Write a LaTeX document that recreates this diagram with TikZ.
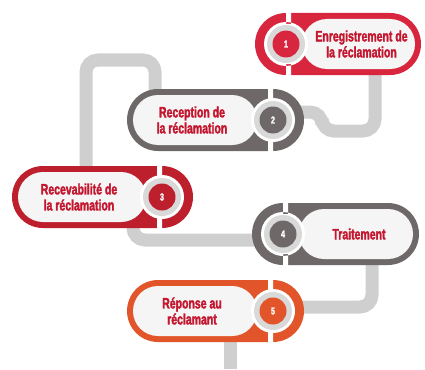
\documentclass[tikz,border=0pt]{standalone}
\usepackage{fontspec}
\setmainfont{Liberation Sans}[BoldFont={Liberation Sans Bold},
  BoldFeatures={FakeStretch=0.7,FakeBold=2},FakeStretch=0.7]
\usetikzlibrary{calc,backgrounds}
\definecolor{stepred}{HTML}{D9263F}
\definecolor{stepdark}{HTML}{BE1F2D}
\definecolor{stepgray}{HTML}{6E6869}
\definecolor{steporange}{HTML}{E2552B}
\definecolor{textred}{HTML}{C4162F}
\definecolor{linkgray}{HTML}{CFCFCF}
\tikzset{
  link/.style={draw=linkgray,line width=13pt,rounded corners=12pt},
  field/.style={fill=black!4},
  ring/.style={fill=black!15},
  badge/.style={circle,minimum size=27pt,inner sep=0pt,text=white,
    font=\bfseries\fontsize{10}{10}\selectfont},
  steptext/.style={text=textred,align=center,
    font=\bfseries\fontsize{15}{16}\selectfont}
}

\begin{document}
\begin{tikzpicture}[x=1pt,y=-1pt]
    \useasboundingbox (0,0) rectangle (425,369);

    % Steps: badge centre, badge side, far end of the pill
    \foreach \n/\bx/\by/\side/\far/\col/\txt in {
        1/286/44/-1/421/stepred/{Enregistrement de\\la réclamation},
        2/273/120/1/127/stepgray/{Reception de\\la réclamation},
        3/162/197/1/12/stepdark/{Recevabilité de\\la réclamation},
        4/283/234/-1/419/stepgray/{Traitement},
        5/273/311/1/127/steporange/{Réponse au\\réclamant}}
    {
        \coordinate (b\n) at (\bx,\by);
        % pill body and its end ring
        \fill[\col,rounded corners=31pt] ({\bx+(\side)*31},{\by-31}) rectangle (\far,{\by+31});
        % inner field
        \fill[field,rounded corners=25pt] ({\far+(\side)*6},{\by-25}) rectangle ({\bx-(\side)*16},{\by+25});
        % white cut round the badge
        \fill[white] (b\n) circle (22pt)
            ({\bx-(\side)*5},{\by-33}) rectangle (\bx,{\by-20})
            ({\bx-(\side)*5},{\by+20}) rectangle (\bx,{\by+33});
        % badge
        \fill[ring] (b\n) circle (19pt);
        \node[badge,fill=\col] (n\n) at (b\n) {\n};
        \node[steptext] (t\n) at ({(\far+\bx-(\side)*16)/2},\by) {\txt};
    }

    % Grey links behind the pills
    \begin{scope}[on background layer]
        \draw[link] ($(b2)+(0,-8)$) -- ++(49,0) -- ++(0,19) -| ($(b1)+(89,20)$);
        \draw[link] ($(b3)+(-76,-22)$) |- ($(b2)+(-118,-60)$) -- ($(b2)+(-118,-20)$);
        \draw[link] ($(b3)+(-29,25)$) |- ($(b4)+(0,6)$);
        \draw[link] ($(b4)+(89,20)$) |- ($(b5)+(0,-4)$);
        \draw[link] ($(b5)+(-43,20)$) -- ++(0,38);
    \end{scope}
\end{tikzpicture}
\end{document}
